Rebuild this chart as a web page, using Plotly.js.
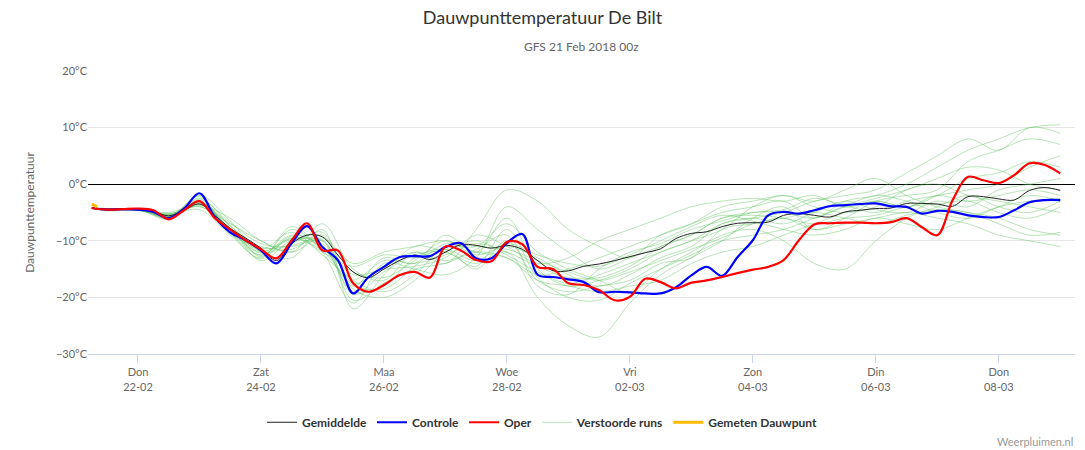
<!DOCTYPE html>
<html>
<head>
<meta charset="utf-8">
<script src="https://cdn.plot.ly/plotly-3.0.1.min.js"></script>
<style>body{margin:0;background:#fff}#chart{width:1085px;height:450px}</style>
</head>
<body>
<div id="chart"></div>
<script>
// 6-hourly times for the main runs
const times6 = [];
for (let t = Date.UTC(2018, 1, 21, 6); t <= Date.UTC(2018, 2, 9, 0); t += 6 * 3600 * 1000) {
  times6.push(new Date(t).toISOString().slice(0, 16).replace('T', ' '));
}
// 12-hourly times for the perturbed runs (first point = model start)
const times12 = [times6[0]].concat(times6.filter((t, i) => i % 2 === 1));

const gemiddelde = [-4.2, -4.4, -4.4, -4.5, -4.8, -5.6, -4.6, -3.5, -5.5, -7.8, -9.5, -11.3, -13.5, -10.5, -9.0, -9.3,
  -12.5, -15.5, -16.5, -15.0, -13.5, -12.5, -13.3, -12.0, -10.7, -10.8, -11.3, -10.8, -11.5, -13.5, -15.3, -15.3,
  -14.5, -14.1, -13.5, -12.8, -12.1, -11.4, -9.6, -8.7, -8.4, -7.5, -6.9, -6.8, -6.7, -5.5, -5.2, -5.5,
  -5.8, -4.9, -4.6, -4.3, -4.2, -3.4, -3.4, -3.5, -3.9, -2.2, -2.2, -2.6, -2.8, -1.1, -0.6, -1.1];
const controle = [-4.2, -4.5, -4.4, -4.5, -4.9, -6.0, -4.3, -1.6, -5.8, -8.5, -9.9, -11.7, -14.0, -10.4, -7.4, -11.1,
  -13.4, -19.3, -16.4, -14.6, -12.9, -12.7, -12.7, -11.1, -10.4, -13.1, -13.1, -10.4, -8.8, -16.0, -16.4, -16.8,
  -17.3, -19.1, -19.0, -19.1, -19.3, -19.3, -18.2, -16.1, -14.6, -16.2, -12.9, -9.9, -5.5, -4.9, -5.2, -4.6,
  -3.9, -3.7, -3.5, -3.4, -3.9, -4.0, -5.2, -4.7, -4.9, -5.5, -5.8, -5.8, -4.6, -3.2, -2.8, -2.8];
const oper = [-4.2, -4.5, -4.4, -4.3, -4.6, -6.2, -4.6, -3.0, -6.0, -8.0, -9.9, -11.5, -13.1, -9.9, -6.9, -11.7,
  -11.7, -17.5, -19.0, -17.8, -16.1, -15.5, -16.5, -11.0, -11.7, -13.4, -13.6, -10.2, -10.6, -14.6, -15.0, -17.5,
  -17.8, -18.7, -20.5, -19.9, -16.7, -17.3, -18.4, -17.4, -17.0, -16.4, -15.7, -15.1, -14.6, -13.4, -9.9, -7.1,
  -6.9, -6.8, -6.8, -6.9, -6.7, -6.0, -7.6, -9.0, -2.8, 1.3, 0.7, 0.2, 1.6, 3.7, 3.4, 1.9];
const gemetenTijd = ['2018-02-21 06:00', '2018-02-21 08:00'];
const gemeten = [-3.5, -4.0];

const verstoord = [
  [-4.2, -4.6, -4.3, -5.8, -3.0, -8.5, -12.5, -9.0, -11.0, -18.0, -13.0, -14.0, -9.0, -12.0, -6.0, -15.0, -18.0, -17.0, -15.0, -12.0, -10.0, -7.0, -6.0, -5.0, -3.0, -2.0, -1.0, 2.0, 5.0, 8.0, 6.0, 10.0, 9.0],
  [-4.2, -4.4, -4.6, -5.2, -4.0, -7.0, -10.0, -12.0, -7.0, -15.0, -17.0, -12.0, -14.0, -8.0, -1.0, -3.0, -8.0, -11.0, -13.0, -9.0, -7.0, -5.0, -4.0, -3.0, -6.0, -3.0, -2.0, 0.0, 3.0, 6.0, 8.0, 10.0, 10.5],
  [-4.2, -4.5, -4.4, -6.0, -2.0, -6.5, -12.0, -13.0, -8.0, -22.0, -16.0, -11.0, -12.0, -14.0, -12.0, -20.0, -25.0, -27.0, -21.0, -16.0, -13.0, -10.0, -6.0, -4.0, -8.0, -6.0, -3.0, -2.0, -1.0, 4.0, 6.0, 8.0, 7.0],
  [-4.2, -4.3, -4.7, -5.4, -4.5, -9.0, -13.0, -7.5, -12.0, -21.0, -14.0, -15.0, -16.0, -13.0, -4.0, -8.0, -12.0, -15.0, -13.0, -11.0, -9.0, -6.0, -5.0, -5.0, -6.0, -4.0, -5.0, -3.0, -2.0, -1.0, 0.0, 3.0, 5.0],
  [-4.2, -4.6, -4.5, -5.6, -3.5, -8.0, -11.5, -8.5, -12.5, -17.0, -19.0, -16.0, -11.0, -11.0, -7.0, -12.0, -15.0, -17.0, -19.0, -15.0, -12.0, -9.0, -8.0, -10.0, -14.0, -15.0, -10.0, -6.0, -4.0, -2.0, -4.0, -5.0, -3.0],
  [-4.2, -4.5, -4.3, -5.3, -3.8, -6.0, -10.0, -12.0, -9.5, -14.0, -12.0, -11.0, -10.0, -12.0, -13.0, -16.0, -15.0, -13.0, -11.0, -9.0, -7.0, -4.0, -3.0, -2.0, -3.0, -1.0, 1.0, -2.0, -4.0, -5.0, -6.0, -8.0, -9.0],
  [-4.2, -4.4, -4.5, -5.9, -2.5, -7.5, -13.5, -10.0, -11.0, -19.0, -18.0, -13.0, -11.5, -15.0, -10.0, -17.0, -19.0, -18.0, -17.0, -14.0, -13.0, -8.0, -7.0, -6.0, -8.0, -7.0, -6.0, -5.0, -6.0, -7.0, -9.0, -10.0, -11.0],
  [-4.2, -4.7, -4.6, -5.5, -3.2, -8.0, -12.0, -9.5, -10.5, -16.0, -15.0, -14.5, -13.0, -9.0, -11.0, -14.0, -13.0, -10.0, -8.0, -6.0, -4.0, -3.0, -2.5, -3.0, -2.0, -4.0, -3.0, -4.0, -2.0, -3.0, -2.0, -1.0, -2.0],
  [-4.2, -4.5, -4.4, -5.7, -2.2, -8.8, -11.0, -11.5, -9.0, -18.5, -20.0, -17.0, -12.0, -10.0, -12.5, -15.5, -17.5, -16.0, -14.0, -12.0, -10.0, -8.0, -4.0, -2.0, -4.0, -5.0, -4.0, -1.0, 0.0, -2.0, -3.0, -4.0, -5.0],
  [-4.2, -4.3, -4.5, -5.0, -3.6, -7.2, -12.8, -8.0, -11.5, -15.5, -16.5, -13.5, -10.0, -12.5, -11.0, -13.0, -16.0, -18.0, -16.0, -13.0, -11.0, -7.0, -6.0, -7.0, -5.0, -3.0, -4.5, -5.0, -3.0, -4.0, -1.0, 0.0, 1.0],
  [-4.2, -4.6, -4.5, -6.2, -3.0, -8.2, -12.2, -10.5, -8.5, -17.5, -14.5, -12.0, -13.5, -11.5, -9.0, -18.0, -19.5, -15.0, -12.0, -10.5, -8.0, -6.5, -5.0, -4.5, -2.5, -3.5, -2.0, -3.0, -5.0, -6.0, -4.0, -2.0, -3.0],
  [-4.2, -4.4, -4.4, -5.4, -3.3, -7.8, -11.8, -9.8, -10.0, -16.8, -13.5, -14.0, -12.5, -10.5, -12.0, -14.5, -16.5, -16.5, -14.5, -11.0, -9.0, -6.0, -5.5, -6.0, -7.0, -6.0, -5.5, -4.0, -3.5, -3.0, -5.0, -6.0, -4.0],
  [-4.2, -4.5, -4.6, -5.6, -2.7, -6.8, -10.5, -11.0, -10.0, -20.5, -17.5, -15.0, -14.0, -12.0, -13.0, -17.0, -18.0, -19.0, -18.0, -17.0, -14.0, -12.0, -11.0, -9.0, -7.0, -5.0, -3.0, -4.0, -2.0, 1.0, 2.0, 4.0, 3.0],
  [-4.2, -4.5, -4.3, -5.5, -3.9, -8.6, -13.2, -9.2, -12.0, -14.5, -12.5, -13.0, -11.5, -13.5, -10.5, -12.5, -14.0, -14.5, -12.5, -10.0, -7.5, -5.5, -6.5, -8.0, -9.0, -8.0, -6.0, -7.0, -8.0, -6.0, -4.0, -3.0, -2.5],
  [-4.2, -4.6, -4.5, -5.8, -3.1, -7.4, -11.2, -10.8, -9.8, -19.5, -15.5, -12.5, -12.0, -14.5, -8.0, -16.5, -20.0, -20.5, -17.5, -15.0, -12.5, -10.0, -9.0, -8.0, -6.0, -4.0, -2.5, -1.0, 1.0, 3.0, 2.5, 0.0, -1.0],
  [-4.2, -4.4, -4.5, -5.3, -3.4, -7.9, -12.6, -9.6, -11.8, -17.8, -18.5, -14.5, -10.5, -11.0, -11.5, -13.5, -15.5, -17.0, -15.5, -13.5, -11.5, -9.5, -7.0, -6.0, -5.0, -6.0, -7.0, -5.5, -4.5, -5.0, -7.0, -9.0, -8.5]
];

const lines = [
  {x: times6, y: gemiddelde, type: 'scatter', mode: 'lines', name: 'Gemiddelde',
    line: {color: '#222', width: 1, shape: 'spline'}},
  {x: times6, y: controle, type: 'scatter', mode: 'lines', name: 'Controle',
    line: {color: '#0000ff', width: 2.2, shape: 'spline'}},
  {x: times6, y: oper, type: 'scatter', mode: 'lines', name: 'Oper',
    line: {color: '#ff0000', width: 2.2, shape: 'spline'}}
];
const runs = verstoord.map((run, i) => ({
  x: times12, y: run, type: 'scatter', mode: 'lines', name: 'Verstoorde runs',
  legendgroup: 'v', showlegend: i === 0, hoverinfo: 'skip',
  line: {color: 'rgba(100,195,100,0.45)', width: 1, shape: 'spline'}
}));
const gemetenTrace = {x: gemetenTijd, y: gemeten, type: 'scatter', mode: 'lines', name: 'Gemeten Dauwpunt',
  line: {color: '#ffbb00', width: 3}};

// draw runs under the main lines, keep legend order of the reference
const data = runs.concat(lines, [gemetenTrace]);
lines.forEach((t, i) => { t.legendrank = i + 1; });
runs.forEach(t => { t.legendrank = 4; });
gemetenTrace.legendrank = 5;

const tickVals = ['2018-02-22', '2018-02-24', '2018-02-26', '2018-02-28', '2018-03-02', '2018-03-04', '2018-03-06', '2018-03-08'];
const tickText = ['Don<br>22-02', 'Zat<br>24-02', 'Maa<br>26-02', 'Woe<br>28-02', 'Vri<br>02-03', 'Zon<br>04-03', 'Din<br>06-03', 'Don<br>08-03'];

const layout = {
  width: 1085, height: 450,
  margin: {l: 88, r: 10, t: 71, b: 96},
  font: {family: 'Lato, "Open Sans", sans-serif', color: '#666', size: 11},
  title: {text: 'Dauwpunttemperatuur De Bilt', x: 0.5, y: 0.96, yanchor: 'middle',
    font: {size: 18, color: '#333'}},
  annotations: [
    {text: 'GFS 21 Feb 2018 00z', xref: 'paper', yref: 'paper', x: 0.5, y: 1.085, yanchor: 'middle',
      showarrow: false, font: {size: 12, color: '#666'}},
    {text: 'Weerpluimen.nl', xref: 'paper', yref: 'paper', x: 1.0, y: -0.31, yanchor: 'middle',
      xanchor: 'right', showarrow: false, font: {size: 11, color: '#999'}}
  ],
  xaxis: {type: 'date', range: ['2018-02-21 04:30', '2018-03-09 05:45'],
    tickvals: tickVals, ticktext: tickText, showgrid: false, ticks: 'outside', ticklen: 8,
    tickcolor: '#ccd6eb', showline: true, linecolor: '#ccd6eb', zeroline: false,
    tickfont: {size: 11, color: '#666'}},
  yaxis: {range: [-30, 20], dtick: 10, ticksuffix: '°C', gridcolor: '#e6e6e6',
    zeroline: true, zerolinecolor: '#000', zerolinewidth: 1,
    title: {text: 'Dauwpunttemperatuur', font: {size: 12, color: '#666'}, standoff: 18},
    tickfont: {size: 11, color: '#666'}},
  legend: {orientation: 'h', x: 0.46, xanchor: 'center', y: -0.19, yanchor: 'top',
    font: {size: 12, color: '#333', family: 'Lato, sans-serif', weight: 'bold'}, traceorder: 'normal'},
  showlegend: true,
  plot_bgcolor: '#fff', paper_bgcolor: '#fff'
};

Plotly.newPlot('chart', data, layout, {displayModeBar: false});
</script>
</body>
</html>
